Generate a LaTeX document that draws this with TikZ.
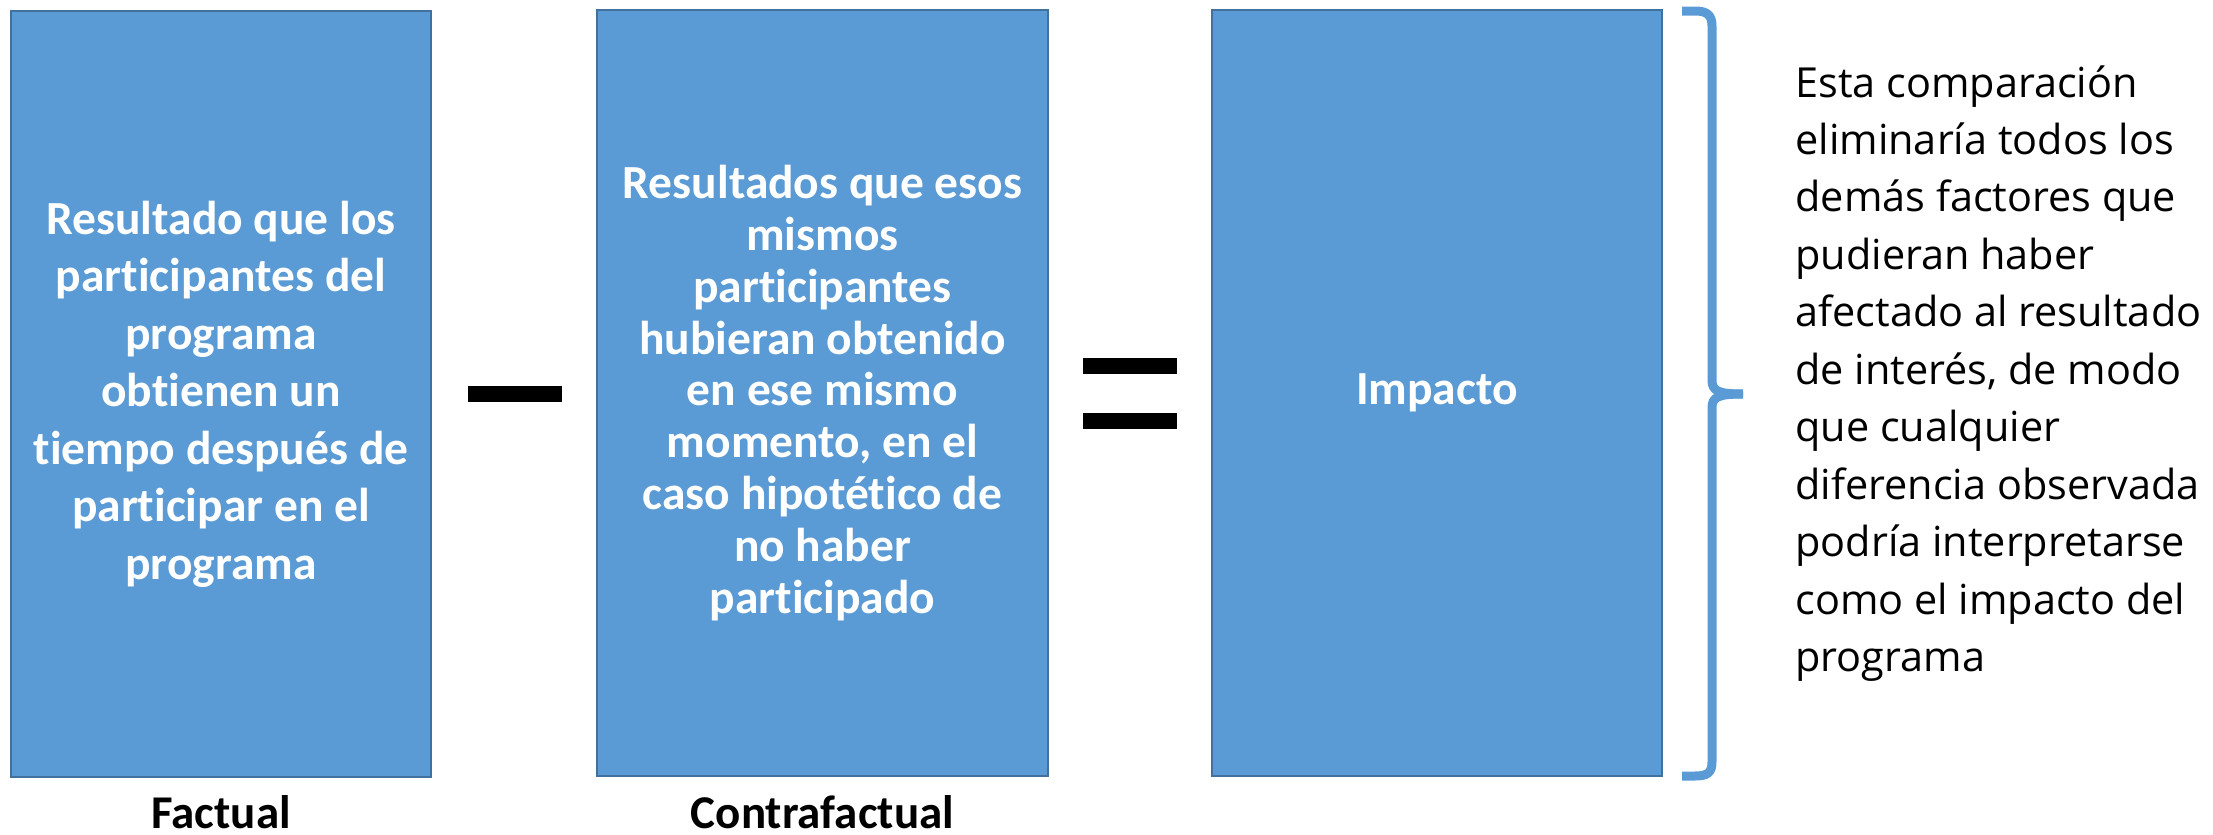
\documentclass[tikz,border=0pt]{standalone}
\usepackage{fontspec}
\setmainfont{Carlito}[Ligatures={NoCommon,NoContextual}]
\newfontfamily\notefam{Open Sans}
\definecolor{boxfill}{HTML}{5B9BD5}
\definecolor{boxline}{HTML}{41719C}
\begin{document}
\begin{tikzpicture}[x=0.5pt,y=-0.5pt,
  box/.style={draw=boxline, fill=boxfill, line width=1pt, minimum height=383pt, inner sep=0pt,
    align=center, text=white, font=\bfseries\fontsize{23.75}{28.75}\selectfont},
  bar/.style={fill=black, inner sep=0pt, minimum width=47pt, minimum height=8pt},
  lbl/.style={anchor=base, inner sep=0pt, font=\bfseries\fontsize{23.5}{28}\selectfont},
  brace/.style={draw=boxfill, line width=4.5pt, line join=round}]
\useasboundingbox (0,0) rectangle (2213,835);
\node[box, minimum width=210pt] (fact) at (221,394) {Resultado que los\\participantes del\\programa\\obtienen un\\tiempo después de\\participar en el\\programa};
\node[box, minimum width=225.5pt, font=\bfseries\fontsize{23.75}{25.9}\selectfont] (contra) at (822.5,393) {Resultados que esos\\mismos\\participantes\\hubieran obtenido\\en ese mismo\\momento, en el\\caso hipotético de\\no haber\\participado};
\node[box, minimum width=225pt] (imp) at (1437,393) {Impacto};
\node[bar] (minus) at (515,394) {};
\node[bar] (eqtop) at (1130,366) {};
\node[bar] (eqbot) at (1130,421) {};
\node[lbl] (lfact) at (221,828) {Factual};
\node[lbl] (lcontra) at (822.5,828) {Contrafactual};
\coordinate (btop) at (1682,11);
\coordinate (btip) at (1743,394);
\coordinate (bbot) at (1682,776);
\draw[brace] (btop) -- (1695,11) .. controls (1707,11) and (1712,15) .. (1712,26) -- (1712,380) .. controls (1712,391) and (1718,394) .. (btip);
\draw[brace] (btip) .. controls (1718,394) and (1712,397) .. (1712,408) -- (1712,762) .. controls (1712,773) and (1707,776) .. (1695,776) -- (bbot);
\node[anchor=base west, inner sep=0pt, font=\notefam\fontsize{20.7}{28.75}\selectfont] (note) at (1795,97) {\begin{tabular}[t]{@{}l@{}}Esta comparación\\eliminaría todos los\\demás factores que\\pudieran haber\\afectado al resultado\\de interés, de modo\\que cualquier\\diferencia observada\\podría interpretarse\\como el impacto del\\programa\end{tabular}};
\end{tikzpicture}
\end{document}
